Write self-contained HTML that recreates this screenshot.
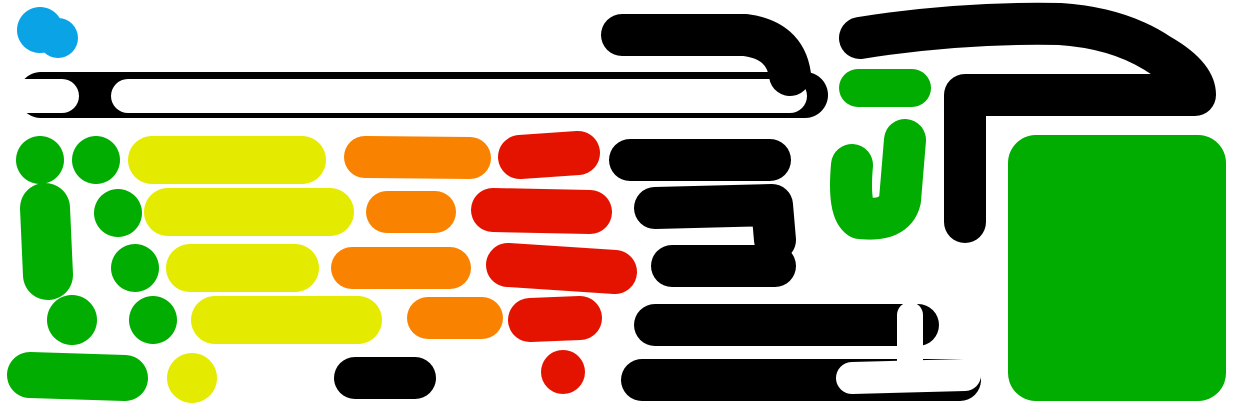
<!DOCTYPE html>
<html><head><meta charset="utf-8"><style>html,body{margin:0;padding:0;background:#fff;}svg{display:block}</style></head>
<body>
<svg width="1233" height="407" viewBox="0 0 1233 407" xmlns="http://www.w3.org/2000/svg">
<g fill="none" stroke-linecap="round" stroke-linejoin="round">
<!-- blue -->
<circle cx="40" cy="30" r="23" fill="#0aa3e6" stroke="none"/>
<circle cx="58" cy="38" r="20" fill="#0aa3e6" stroke="none"/>
<!-- long black bar with white inner -->
<rect x="18" y="72" width="810" height="46" rx="23" fill="#000" stroke="none"/>
<path d="M128 96 L790 96" stroke="#fff" stroke-width="34"/>
<path d="M22 96 L62 96" stroke="#fff" stroke-width="34"/>
<!-- top black -->
<path d="M622 35 L745 35 Q785 40 790 75" stroke="#000" stroke-width="42"/>
<path d="M860 38 Q960 22 1060 24 Q1120 28 1160 55 Q1195 75 1195 95 L965 95 L965 222" stroke="#000" stroke-width="42"/>
<!-- green top right -->
<path d="M858 88 L912 88" stroke="#00ad00" stroke-width="38"/>
<path d="M905 140 L900 200 Q895 222 860 218 Q848 210 852 165" stroke="#00ad00" stroke-width="42"/>
<rect x="1008" y="135" width="218" height="266" rx="28" fill="#00ad00" stroke="none"/>
<!-- green left -->
<g fill="#00ad00" stroke="none">
<circle cx="40" cy="160" r="24"/><circle cx="96" cy="160" r="24"/>
<circle cx="118" cy="213" r="24"/><circle cx="135" cy="268" r="24"/>
<circle cx="72" cy="320" r="25"/><circle cx="153" cy="320" r="24"/>
</g>
<path d="M45 208 L48 275" stroke="#00ad00" stroke-width="50"/>
<path d="M30 375 L125 378" stroke="#00ad00" stroke-width="46"/>
<!-- yellow -->
<g stroke="#e5eb00" stroke-width="48">
<path d="M152 160 L302 160"/><path d="M168 212 L330 212"/>
<path d="M190 268 L295 268"/><path d="M215 320 L358 320"/>
</g>
<circle cx="192" cy="378" r="25" fill="#e5eb00"/>
<!-- orange -->
<g stroke="#f98300" stroke-width="42">
<path d="M365 157 L470 158"/><path d="M387 212 L435 212"/>
<path d="M352 268 L450 268"/><path d="M428 318 L482 318"/>
</g>
<!-- red -->
<g stroke="#e31300" stroke-width="44">
<path d="M520 157 L578 153"/><path d="M493 210 L590 212"/>
<path d="M508 265 L615 272"/><path d="M530 320 L580 318"/>
</g>
<circle cx="563" cy="372" r="22" fill="#e31300"/>
<!-- black right -->
<g stroke="#000" stroke-width="42">
<path d="M630 160 L770 160"/>
<path d="M655 208 L772 205 L775 240"/>
<path d="M672 266 L775 266"/>
<path d="M655 325 L918 325"/>
<path d="M642 380 L960 380"/>
<path d="M355 378 L415 378"/>
</g>
<path d="M852 378 L965 375" stroke="#fff" stroke-width="32"/>
<path d="M910 315 L910 365" stroke="#fff" stroke-width="26"/>
</g>
</svg>
</body></html>
